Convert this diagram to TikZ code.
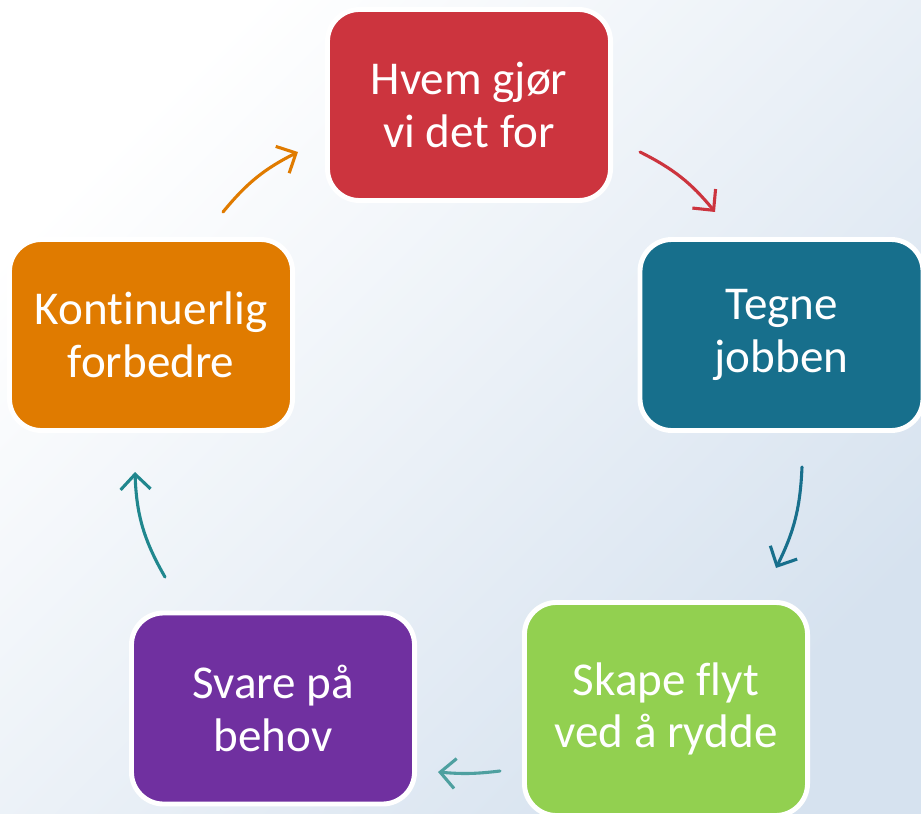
\documentclass[tikz,border=0pt]{standalone}
\usepackage{fontspec}
\setmainfont[Ligatures=NoCommon]{Carlito}
\usetikzlibrary{arrows.meta}
\definecolor{hvemred}{RGB}{204,52,62}
\definecolor{tegneteal}{RGB}{23,111,140}
\definecolor{skapegreen}{RGB}{146,208,80}
\definecolor{svarepurple}{RGB}{112,48,160}
\definecolor{kontorange}{RGB}{224,123,0}
\definecolor{lightteal}{RGB}{78,160,160}
\definecolor{midteal}{RGB}{32,135,142}
\definecolor{bgblue}{RGB}{214,226,239}

\begin{document}
\begin{tikzpicture}[x=0.025cm,y=-0.025cm]
      \useasboundingbox (0,0) rectangle (921,814);
      \shade[top color=white, bottom color=bgblue, shading angle=45] (0,0) rectangle (921,814);
      \begin{scope}[every node/.style={rounded corners=0.8cm,draw=white,line width=3.5pt,
          text=white,align=center,inner sep=0pt,minimum width=7.075cm,minimum height=4.775cm,
          font=\fontsize{33.5}{37.5}\selectfont}]
        \node (hvem)[fill=hvemred] at (469,105) {Hvem gjør\\vi det for};
        \node (tegne)[fill=tegneteal] at (781.5,335) {Tegne\\jobben};
        \node (skape)[fill=skapegreen,minimum height=5.325cm] at (666,709) {Skape flyt\\ved å rydde};
        \node (svare)[fill=svarepurple] at (273,708.5) {Svare på\\behov};
        \node (kont)[fill=kontorange] at (151,335) {Kontinuerlig\\forbedre};
      \end{scope}
      \coordinate (r1) at (640,152);
      \coordinate (r2) at (715,212);
      \coordinate (t1) at (802,467);
      \coordinate (t2) at (776,568);
      \coordinate (g1) at (500,771);
      \coordinate (g2) at (438,772);
      \coordinate (p1) at (165,577);
      \coordinate (p2) at (135,472);
      \coordinate (o1) at (223,212);
      \coordinate (o2) at (298,152);
      \begin{scope}
        [every edge/.style={draw,line width=2.2pt,line cap=round,
          -{Straight Barb[length=3.8mm,width=7.5mm]}}]
        \path (r1) edge[hvemred,bend left=12] (r2);
        \path (t1) edge[tegneteal,bend left=12] (t2);
        \path (g1) edge[lightteal,bend left=6] (g2);
        \path (p1) edge[midteal,bend left=14] (p2);
        \path (o1) edge[kontorange,bend left=12] (o2);
      \end{scope}
    \end{tikzpicture}
\end{document}
